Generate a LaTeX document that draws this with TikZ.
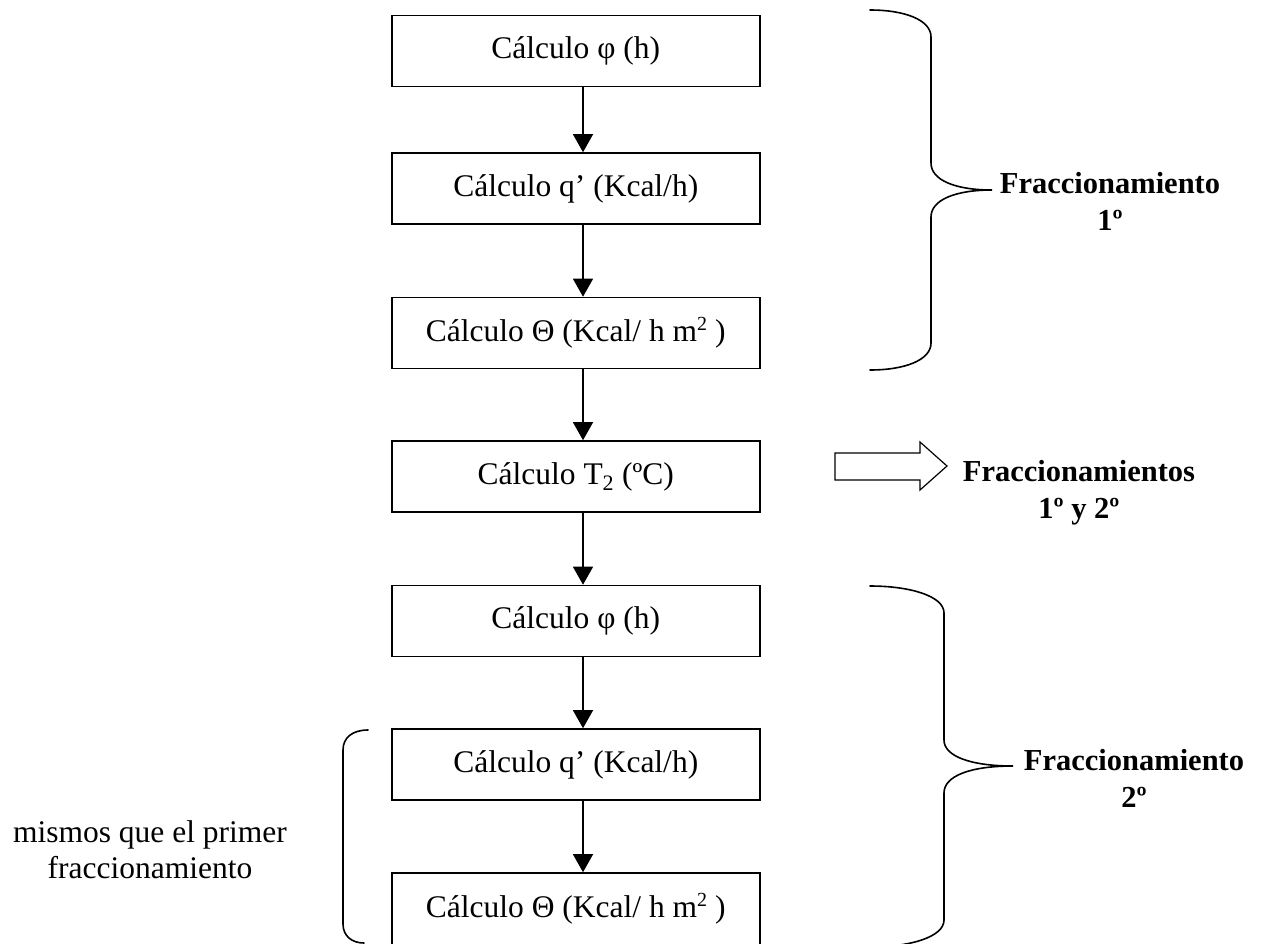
\documentclass[tikz,border=0pt]{standalone}
\usepackage{fontspec}
\setmainfont{Liberation Serif}
\usetikzlibrary{arrows.meta}

\newcommand{\sqsup}{\raisebox{11pt}{\fontsize{20}{20}\selectfont 2}}

\tikzset{
  stepbox/.style={draw, line width=1.6pt, minimum width=368pt, minimum height=71pt,
                  inner sep=0pt, font=\fontsize{31.5}{37}\selectfont},
  flow/.style={line width=1.4pt, -{Triangle[width=20pt,length=18pt]}},
  brace/.style={line width=1.6pt, line cap=round},
  lbl/.style={align=center, inner sep=0pt, anchor=base,
              font=\fontsize{30.5}{37}\selectfont\bfseries},
  note/.style={align=center, inner sep=0pt, anchor=base,
               font=\fontsize{31.5}{36}\selectfont},
  blockarrow/.style={draw, line width=1.2pt, fill=white}
}

\begin{document}
\begin{tikzpicture}[x=1pt, y=-1pt]
  \useasboundingbox (0,0) rectangle (1266,943);

  % calculation steps
  \node[stepbox] (b1) at (575.75,51)    {Cálculo φ (h)};
  \node[stepbox] (b2) at (575.75,188.5) {Cálculo q’ (Kcal/h)};
  \node[stepbox] (b3) at (575.75,333)   {Cálculo Θ (Kcal/ h m\sqsup{} )};
  \node[stepbox] (b4) at (575.75,476.5) {Cálculo T\textsubscript{2} (ºC)};
  \node[stepbox] (b5) at (575.75,621)   {Cálculo φ (h)};
  \node[stepbox] (b6) at (575.75,764.5) {Cálculo q’ (Kcal/h)};
  \node[stepbox, minimum height=72pt] (b7) at (575.75,909) {Cálculo Θ (Kcal/ h m\sqsup{} )};

  % vertical flow line
  \coordinate (ax) at (583,0);
  \draw[flow] (b1.south -| ax) -- (b2.north -| ax);
  \draw[flow] (b2.south -| ax) -- (b3.north -| ax);
  \draw[flow] (b3.south -| ax) -- (b4.north -| ax);
  \draw[flow] (b4.south -| ax) -- (b5.north -| ax);
  \draw[flow] (b5.south -| ax) -- (b6.north -| ax);
  \draw[flow] (b6.south -| ax) -- (b7.north -| ax);

  % brace of the first fractionation
  \draw[brace] (870,10) .. controls (905,10) and (931,20) .. (931,37)
     -- (931,163) .. controls (931,180) and (955,190) .. (992,190)
     .. controls (955,190) and (931,200) .. (931,217)
     -- (931,343) .. controls (931,360) and (905,370) .. (870,370);
  \node[lbl] (f1) at (1110,230) {Fraccionamiento\\1º};

  % block arrow towards both fractionations
  \draw[blockarrow] (835,453) -- (920,453) -- (920,442) -- (947,466)
     -- (920,490) -- (920,480) -- (835,480) -- cycle;
  \node[lbl] (f12) at (1079,518) {Fraccionamientos\\1º y 2º};

  % brace of the second fractionation
  \draw[brace] (870,586) .. controls (910,586) and (944,596) .. (944,613)
     -- (944,740) .. controls (944,756) and (970,766) .. (1013,766)
     .. controls (970,766) and (944,776) .. (944,793)
     -- (944,920) .. controls (944,937) and (910,947) .. (870,947);
  \node[lbl] (f2) at (1134,807) {Fraccionamiento\\2º};

  % left bracket around the repeated steps
  \draw[brace] (368,730) .. controls (352,730) and (343,738) .. (343,750)
     -- (343,924) .. controls (343,936) and (352,943) .. (364,943);
  \node[note] (same) at (150,878) {mismos que el primer\\fraccionamiento};
\end{tikzpicture}
\end{document}
